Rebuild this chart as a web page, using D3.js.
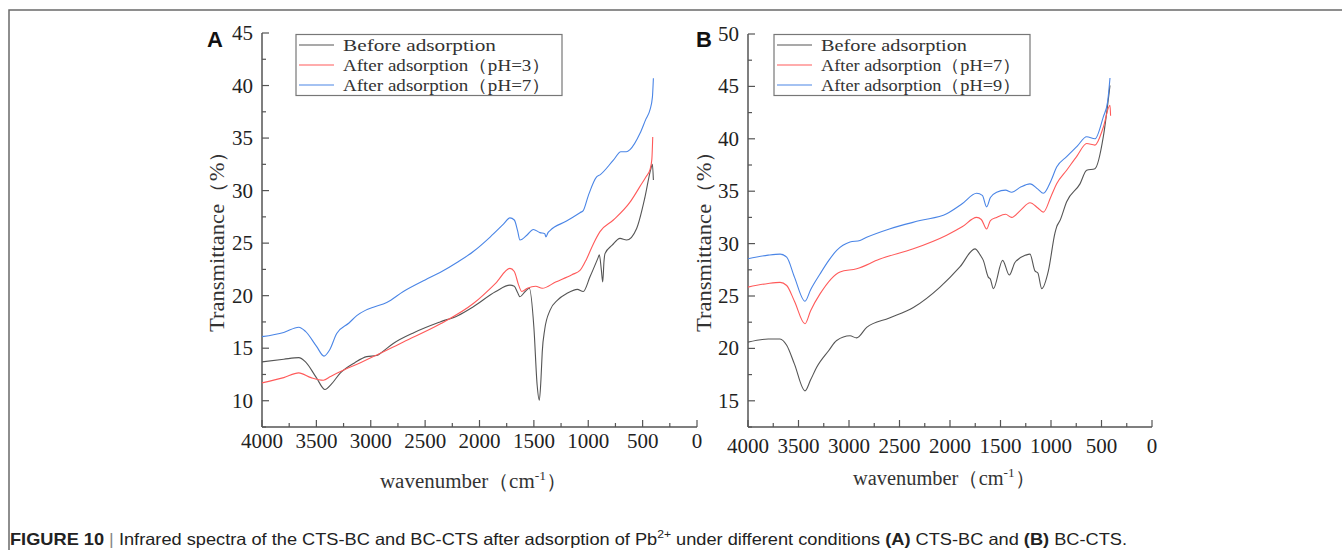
<!DOCTYPE html>
<html>
<head>
<meta charset="utf-8">
<script src="https://cdn.jsdelivr.net/npm/d3@7"></script>
<style>
  body { margin: 0; background: #fff; }
  svg { display: block; }
</style>
</head>
<body>
<svg id="chart" width="1342" height="550"></svg>
<script>
// wavenumber (cm-1), transmittance (%)
const aBefore = [[4000,13.7],[3800,13.95],[3662,14.1],[3600,13.7],[3500,12.2],[3421,11.07],[3360,11.6],[3283,12.6],[3150,13.6],[3037,14.2],[2945,14.3],[2900,14.6],[2793,15.45],[2600,16.5],[2363,17.5],[2200,18.1],[2057,18.95],[1850,20.4],[1720,21.0],[1680,20.9],[1650,20.3],[1628,19.9],[1580,20.4],[1542,20.7],[1500,17.0],[1470,11.5],[1450,10.05],[1435,12.0],[1423,14.65],[1400,16.8],[1352,18.6],[1280,19.6],[1198,20.2],[1100,20.6],[1046,20.4],[984,21.8],[910,23.6],[898,23.9],[880,22.5],[867,21.3],[855,23.3],[846,24.0],[780,24.8],[708,25.45],[647,25.3],[555,26.4],[478,29.4],[426,32.0],[410,32.5],[401,31.0]];
const aPH3 = [[4000,11.7],[3800,12.2],[3662,12.65],[3550,12.2],[3436,11.95],[3370,12.3],[3283,12.75],[3100,13.6],[2976,14.2],[2700,15.6],[2363,17.3],[2057,19.25],[1850,21.2],[1720,22.6],[1680,22.3],[1640,21.0],[1612,20.4],[1560,20.7],[1484,20.9],[1423,20.7],[1300,21.3],[1150,22.0],[1076,22.4],[1015,23.5],[950,25.0],[892,26.1],[769,27.2],[616,28.9],[524,30.4],[470,31.3],[432,32.0],[415,33.0],[407,35.1]];
const aPH7 = [[4000,16.1],[3800,16.5],[3662,17.0],[3600,16.6],[3500,15.2],[3430,14.25],[3380,14.8],[3313,16.4],[3200,17.4],[3129,18.1],[3050,18.6],[2976,18.9],[2853,19.35],[2700,20.4],[2500,21.5],[2363,22.2],[2200,23.2],[2057,24.2],[1900,25.6],[1780,26.8],[1720,27.4],[1680,27.2],[1650,26.2],[1628,25.3],[1560,25.8],[1505,26.3],[1444,26.0],[1400,25.9],[1389,25.6],[1370,26.0],[1352,26.2],[1200,27.1],[1076,27.9],[1046,28.1],[1000,29.5],[923,31.3],[892,31.5],[769,32.9],[700,33.7],[650,33.7],[616,33.9],[524,35.45],[470,36.8],[432,37.7],[410,38.9],[401,40.7]];

const bBefore = [[4000,20.6],[3800,20.9],[3683,20.9],[3617,20.3],[3540,18.5],[3436,15.95],[3380,17.0],[3320,18.2],[3200,19.8],[3122,20.75],[2990,21.2],[2925,21.0],[2825,22.0],[2600,22.9],[2363,23.9],[2099,25.85],[1900,27.8],[1753,29.5],[1700,28.9],[1670,28.4],[1621,26.8],[1600,26.6],[1571,25.7],[1479,28.4],[1413,27.0],[1357,28.2],[1250,28.9],[1208,29.0],[1159,27.4],[1130,27.2],[1092,25.7],[1026,27.4],[961,31.0],[944,31.6],[911,32.2],[845,34.0],[713,35.7],[647,37.0],[565,37.15],[482,40.2],[416,45.1]];
const bPH7 = [[4000,25.85],[3800,26.2],[3683,26.3],[3617,26.0],[3540,24.5],[3436,22.35],[3380,23.6],[3287,25.2],[3089,27.3],[2924,27.6],[2700,28.5],[2363,29.5],[2033,30.8],[1880,31.6],[1736,32.5],[1690,32.3],[1637,31.4],[1600,32.2],[1538,32.5],[1450,32.8],[1389,32.5],[1300,33.2],[1208,33.9],[1130,33.4],[1076,33.0],[1000,34.5],[944,35.7],[845,37.0],[740,38.4],[647,39.55],[565,39.4],[482,41.1],[416,43.2],[410,42.2]];
const bPH9 = [[4000,28.55],[3800,28.9],[3683,29.0],[3617,28.7],[3540,26.8],[3436,24.5],[3380,25.6],[3287,27.1],[3200,28.4],[3122,29.35],[2990,30.15],[2891,30.3],[2825,30.6],[2600,31.4],[2297,32.2],[2033,32.85],[1880,33.8],[1736,34.8],[1680,34.6],[1637,33.5],[1600,34.4],[1538,34.9],[1450,35.1],[1389,34.9],[1300,35.4],[1208,35.7],[1130,35.2],[1076,34.8],[1000,36.0],[944,37.3],[845,38.3],[740,39.3],[647,40.2],[565,40.0],[482,42.1],[440,43.5],[416,45.8]];

const aLegend = ["Before adsorption", "After adsorption\uff08pH=3\uff09", "After adsorption\uff08pH=7\uff09"];
const bLegend = ["Before adsorption", "After adsorption\uff08pH=7\uff09", "After adsorption\uff08pH=9\uff09"];
const seriesColours = ["#555555", "#ff5a5a", "#4a85e6"];
const xTicks = [4000, 3500, 3000, 2500, 2000, 1500, 1000, 500, 0];

const serif = "'Liberation Serif', 'DejaVu Serif', serif";
const svg = d3.select("#chart");

// outer figure frame (top and left edges)
svg.append("path")
  .attr("d", "M9,550V10H1342")
  .attr("fill", "none")
  .attr("stroke", "#6a6a6a")
  .attr("stroke-width", 1.5);

function drawPanel(p) {
  const x = d3.scaleLinear().domain([4000, 0]).range([p.left, p.right]);
  const y = d3.scaleLinear().domain(p.yDomain).range([427, p.top]);
  const g = svg.append("g");
  const axisColour = "#555";

  // x axis, ticks inward
  const xMinor = d3.range(4000, -1, -250);
  g.append("line").attr("x1", p.left).attr("x2", p.right).attr("y1", 427).attr("y2", 427)
    .attr("stroke", axisColour).attr("stroke-width", 1.5);
  g.selectAll(".xt").data(xMinor).enter().append("line")
    .attr("x1", (d) => x(d)).attr("x2", (d) => x(d))
    .attr("y1", 427).attr("y2", (d) => (d % 500 === 0 ? 420 : 423))
    .attr("stroke", axisColour).attr("stroke-width", 1.2);
  g.selectAll(".xl").data(xTicks).enter().append("text")
    .attr("x", (d) => x(d)).attr("y", p.xLabelY)
    .attr("text-anchor", "middle")
    .attr("font-family", serif)
    .attr("font-size", 21).attr("fill", "#222")
    .text((d) => d);

  // y axis, ticks inward
  const yMinor = d3.range(p.yDomain[0], p.yDomain[1] + 0.01, 2.5);
  g.append("line").attr("x1", p.left).attr("x2", p.left).attr("y1", 427).attr("y2", p.top)
    .attr("stroke", axisColour).attr("stroke-width", 1.5);
  g.selectAll(".yt").data(yMinor).enter().append("line")
    .attr("x1", p.left).attr("x2", (d) => (d % 5 === 0 ? p.left + 7 : p.left + 4))
    .attr("y1", (d) => y(d)).attr("y2", (d) => y(d))
    .attr("stroke", axisColour).attr("stroke-width", 1.2);
  g.selectAll(".yl").data(yMinor.filter((d) => d % 5 === 0)).enter().append("text")
    .attr("x", p.left - 9).attr("y", (d) => y(d) + 7)
    .attr("text-anchor", "end")
    .attr("font-family", serif)
    .attr("font-size", 21).attr("fill", "#222")
    .text((d) => d);

  // axis titles
  g.append("text")
    .attr("transform", `translate(${p.yTitleX},236) rotate(-90)`)
    .attr("text-anchor", "middle")
    .attr("font-family", serif)
    .attr("font-size", 20).attr("fill", "#333")
    .attr("textLength", 192).attr("lengthAdjust", "spacingAndGlyphs")
    .text("Transmittance\uff08%\uff09");
  const xt = g.append("text")
    .attr("x", (p.left + p.right) / 2 - 6).attr("y", p.xTitleY)
    .attr("text-anchor", "middle")
    .attr("font-family", serif)
    .attr("font-size", 20).attr("fill", "#333")
    .attr("textLength", p.xTitleW).attr("lengthAdjust", "spacingAndGlyphs");
  xt.append("tspan").text("wavenumber\uff08cm");
  xt.append("tspan").attr("dy", -8).attr("font-size", 13).text("-1");
  xt.append("tspan").attr("dy", 8).text("\uff09");

  // panel letter
  g.append("text")
    .attr("x", p.letterX).attr("y", 47)
    .attr("font-family", "'Liberation Sans', Arial, sans-serif")
    .attr("font-weight", "bold").attr("font-size", 22).attr("fill", "#111")
    .text(p.letter);

  // spectra
  const line = d3.line()
    .x((d) => x(d[0]))
    .y((d) => y(d[1]))
    .curve(d3.curveMonotoneX);
  g.selectAll(".spec").data(p.series).enter().append("path")
    .attr("d", (d) => line(d))
    .attr("fill", "none")
    .attr("stroke", (d, i) => seriesColours[i])
    .attr("stroke-width", 1.1);

  // legend
  const lg = g.append("g");
  lg.append("rect")
    .attr("x", p.legend.x).attr("y", 34.5)
    .attr("width", p.legend.w).attr("height", 61)
    .attr("fill", "#fff").attr("stroke", "#777").attr("stroke-width", 1.2);
  p.labels.forEach((label, i) => {
    const ry = 45 + i * 20;
    lg.append("line")
      .attr("x1", p.legend.x + 3).attr("x2", p.legend.x + 38)
      .attr("y1", ry).attr("y2", ry)
      .attr("stroke", seriesColours[i]).attr("stroke-width", 1.1);
    lg.append("text")
      .attr("x", p.legend.x + 47).attr("y", ry + 5.5)
      .attr("font-family", serif)
      .attr("font-size", 16.5).attr("fill", "#333")
      .attr("textLength", p.legend.textW[i]).attr("lengthAdjust", "spacingAndGlyphs")
      .text(label);
  });
}

drawPanel({
  letter: "A", letterX: 207,
  left: 262, right: 697, top: 33, yDomain: [7.5, 45],
  xLabelY: 448, xTitleY: 488, yTitleX: 224, xTitleW: 187,
  series: [aBefore, aPH3, aPH7], labels: aLegend,
  legend: { x: 296, w: 266, textW: [153, 208, 208] },
});

drawPanel({
  letter: "B", letterX: 696,
  left: 748, right: 1152, top: 34, yDomain: [12.5, 50],
  xLabelY: 453, xTitleY: 485, yTitleX: 711, xTitleW: 182,
  series: [bBefore, bPH7, bPH9], labels: bLegend,
  legend: { x: 774, w: 256, textW: [146, 200, 200] },
});

// caption
const cap = svg.append("text")
  .attr("x", 10).attr("y", 545)
  .attr("font-family", "'Liberation Sans', Arial, sans-serif")
  .attr("font-size", 16.5).attr("fill", "#222")
  .attr("textLength", 1117).attr("lengthAdjust", "spacingAndGlyphs");
cap.append("tspan").attr("font-weight", "bold").text("FIGURE 10 ");
cap.append("tspan").attr("fill", "#888").text("| ");
cap.append("tspan").text("Infrared spectra of the CTS-BC and BC-CTS after adsorption of Pb");
cap.append("tspan").attr("dy", -7).attr("font-size", 11).text("2+");
cap.append("tspan").attr("dy", 7).text(" under different conditions ");
cap.append("tspan").attr("font-weight", "bold").text("(A)");
cap.append("tspan").text(" CTS-BC and ");
cap.append("tspan").attr("font-weight", "bold").text("(B)");
cap.append("tspan").text(" BC-CTS.");
</script>
</body>
</html>
